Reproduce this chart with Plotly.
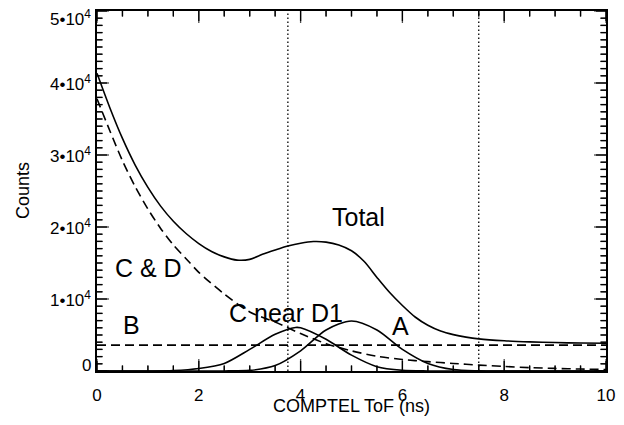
import plotly.graph_objects as go

# Fit components of the COMPTEL time-of-flight spectrum
tof_total = [0, 0.25, 0.5, 0.75, 1.0, 1.25, 1.5, 1.75, 2.0, 2.25, 2.5, 2.75,
             3.0, 3.25, 3.5, 3.75, 4.0, 4.25, 4.5, 4.75, 5.0, 5.25, 5.5, 5.75,
             6.0, 6.25, 6.5, 6.75, 7.0, 7.25, 7.5, 8.0, 8.5, 9.0, 9.5, 10.0]
counts_total = [41350, 36600, 32300, 28600, 25500, 22900, 20800, 19100, 17700,
                16600, 15850, 15400, 15500, 16200, 16800, 17350, 17750, 17980,
                17900, 17500, 16700, 15200, 13000, 10900, 9100, 7500, 6350,
                5550, 5050, 4700, 4460, 4200, 4050, 3950, 3880, 3850]

tof_cd = [0, 0.25, 0.5, 0.75, 1.0, 1.25, 1.5, 1.75, 2.0, 2.5, 3.0, 3.5, 4.0,
          4.5, 5.0, 5.5, 6.0, 6.5, 7.0, 7.5, 8.0, 8.5, 9.0, 9.5, 10.0]
counts_cd = [37800, 33400, 29200, 25600, 22500, 19800, 17500, 15600, 13700,
             10700, 8200, 6800, 5200, 3800, 2800, 2050, 1600, 1300, 1050, 820,
             630, 470, 360, 270, 200]

tof_b = [0, 10.0]
counts_b = [3600, 3600]

tof_c = [0, 1.0, 1.5, 2.0, 2.5, 3.0, 3.5, 3.9, 4.0, 4.5, 5.0, 5.5, 6.0, 6.5,
         7.0, 10.0]
counts_c = [0, 0, 60, 350, 1050, 3000, 5100, 6050, 6000, 4400, 2200, 600, 100,
            10, 0, 0]

tof_a = [0, 2.0, 2.5, 3.0, 3.5, 4.0, 4.5, 5.0, 5.5, 6.0, 6.5, 7.0, 7.5, 8.0,
         10.0]
counts_a = [0, 0, 10, 80, 750, 2800, 5700, 6950, 5700, 3000, 1050, 200, 30, 0, 0]

# ToF window boundaries
cut_tof = [3.75, 7.5]

# Curve labels
label_text = ["Total", "C & D", "B", "C near D1", "A"]
label_tof = [5.13, 1.02, 0.68, 3.71, 5.97]
label_counts = [21400, 14300, 6400, 8100, 6200]

# Axis ticks
X_MIN, X_MAX = 0, 10
Y_MIN, Y_MAX = 0, 50000
x_tickvals = [0, 2, 4, 6, 8, 10]
x_minor_step = 0.5
y_tickvals = [0, 10000, 20000, 30000, 40000, 50000]
y_minor_step = 1000
y_ticktext = ["0", "1•10<sup>4</sup>", "2•10<sup>4</sup>", "3•10<sup>4</sup>",
              "4•10<sup>4</sup>", "5•10<sup>4</sup>"]

FONT = "Liberation Sans, Arial, Helvetica, sans-serif"
W, H = 624, 425
M_L, M_R, M_T, M_B = 97, 18, 11, 54
PLOT_W, PLOT_H = W - M_L - M_R, H - M_T - M_B
MAJOR_LEN, MINOR_LEN = 10, 5  # tick lengths in px

fig = go.Figure()

solid = dict(color="black", width=1.6)
dashed = dict(color="black", width=1.6, dash="9px,5px")

fig.add_trace(go.Scatter(x=tof_total, y=counts_total, mode="lines",
                         line=dict(**solid, shape="spline", smoothing=0.8)))
fig.add_trace(go.Scatter(x=tof_cd, y=counts_cd, mode="lines",
                         line=dict(**dashed, shape="spline", smoothing=0.8)))
fig.add_trace(go.Scatter(x=tof_b, y=counts_b, mode="lines", line=dashed))
fig.add_trace(go.Scatter(x=tof_c, y=counts_c, mode="lines",
                         line=dict(**solid, shape="spline", smoothing=0.8)))
fig.add_trace(go.Scatter(x=tof_a, y=counts_a, mode="lines",
                         line=dict(**solid, shape="spline", smoothing=0.8)))

for c in cut_tof:
    fig.add_vline(x=c, line=dict(color="black", width=1.3, dash="1.5px,2.5px"))

# Inward-pointing tick marks on all four sides of the frame
per_px_y = (Y_MAX - Y_MIN) / PLOT_H
per_px_x = (X_MAX - X_MIN) / PLOT_W
tx, ty = [], []
vx, vy, vsize = [], [], []   # vertical tick markers (x axis)
hx, hy, hsize = [], [], []   # horizontal tick markers (y axis)
n_x = int(round((X_MAX - X_MIN) / x_minor_step))
for i in range(n_x + 1):
    xv = X_MIN + i * x_minor_step
    length = MAJOR_LEN if xv in x_tickvals else MINOR_LEN
    d = length * per_px_y
    tx += [xv, xv, None, xv, xv, None]
    ty += [Y_MIN, Y_MIN + d, None, Y_MAX, Y_MAX - d, None]
    vx += [xv, xv]
    vy += [Y_MIN + d / 2, Y_MAX - d / 2]
    vsize += [length, length]
n_y = int(round((Y_MAX - Y_MIN) / y_minor_step))
for i in range(n_y + 1):
    yv = Y_MIN + i * y_minor_step
    length = MAJOR_LEN if yv in y_tickvals else MINOR_LEN
    d = length * per_px_x
    tx += [X_MIN, X_MIN + d, None, X_MAX, X_MAX - d, None]
    ty += [yv, yv, None, yv, yv, None]
    hx += [X_MIN + d / 2, X_MAX - d / 2]
    hy += [yv, yv]
    hsize += [length, length]

fig.add_trace(go.Scatter(x=tx, y=ty, mode="lines", hoverinfo="skip",
                         line=dict(color="black", width=1.3, simplify=False)))
fig.add_trace(go.Scatter(x=vx, y=vy, mode="markers", hoverinfo="skip",
                         marker=dict(symbol="line-ns-open", size=vsize,
                                     color="black",
                                     line=dict(color="black", width=1.3))))
fig.add_trace(go.Scatter(x=hx, y=hy, mode="markers", hoverinfo="skip",
                         marker=dict(symbol="line-ew-open", size=hsize,
                                     color="black",
                                     line=dict(color="black", width=1.3))))

for txt, xv, yv in zip(label_text, label_tof, label_counts):
    fig.add_annotation(x=xv, y=yv, text=txt, showarrow=False,
                       xanchor="center", yanchor="middle",
                       font=dict(family=FONT, size=25, color="black"))

# Y tick labels; the end labels sit slightly inside the frame
for k, (yv, txt) in enumerate(zip(y_tickvals, y_ticktext)):
    shift = 6 if k == 0 else (-7 if k == len(y_tickvals) - 1 else 0)
    fig.add_annotation(x=X_MIN, y=yv, text=txt, showarrow=False,
                       xanchor="right", yanchor="middle", xshift=-4,
                       yshift=shift, font=dict(family=FONT, size=17,
                                               color="black"))

fig.add_annotation(xref="paper", yref="paper", x=0, y=0.5, xshift=-74,
                   text="Counts", textangle=-90, showarrow=False,
                   xanchor="center", yanchor="middle",
                   font=dict(family=FONT, size=18, color="black"))

fig.add_annotation(xref="paper", yref="paper", x=0.5, y=0, yshift=-35,
                   text="COMPTEL ToF (ns)", showarrow=False,
                   xanchor="center", yanchor="middle",
                   font=dict(family=FONT, size=18, color="black"))

fig.update_layout(
    width=W, height=H,
    margin=dict(l=M_L, r=M_R, t=M_T, b=M_B),
    paper_bgcolor="white", plot_bgcolor="white",
    showlegend=False,
    font=dict(family=FONT, size=17, color="black"),
    xaxis=dict(
        range=[X_MIN, X_MAX], tickvals=x_tickvals, ticks="",
        showline=True, linecolor="black", linewidth=1.6, mirror=True,
        showgrid=False, zeroline=False, automargin=False,
        ticklabelstandoff=8,
    ),
    yaxis=dict(
        range=[Y_MIN, Y_MAX], showticklabels=False, ticks="",
        showline=True, linecolor="black", linewidth=1.6, mirror=True,
        showgrid=False, zeroline=False, automargin=False,
    ),
)

fig.write_html("out.html")
